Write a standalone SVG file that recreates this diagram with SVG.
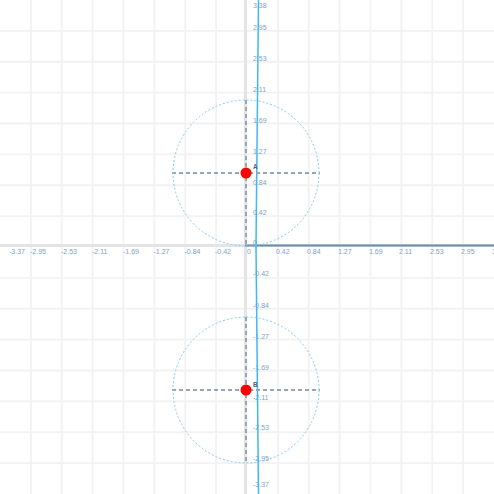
<svg xmlns="http://www.w3.org/2000/svg" width="494" height="494" viewBox="0 0 494 494">
<style>
.grid line{stroke:#f2f2f2;stroke-width:1.8}
.ax{stroke:#e4e4e4;stroke-width:3}
.ray{stroke:#6b8cae;stroke-width:2}
.dash{stroke:#95a4b8;stroke-width:2;stroke-dasharray:4 3;fill:none}
.circ{stroke:#7fcaf2;stroke-width:1;stroke-dasharray:2 2;fill:none}
.curve{stroke:#3db8f5;stroke-width:1.5;fill:none}
.pt{fill:#ff0000}
.lbl{font-family:"Liberation Sans",Arial,sans-serif;font-size:7px;fill:#7ea3c6}
.name{font-family:"Liberation Sans",Arial,sans-serif;font-size:6.5px;fill:#4f6077;font-weight:bold}
</style>
<rect width="494" height="494" fill="#ffffff"/>
<g class="grid">
<line x1="30.9" y1="0" x2="30.9" y2="494"/><line x1="61.75" y1="0" x2="61.75" y2="494"/><line x1="92.6" y1="0" x2="92.6" y2="494"/><line x1="123.5" y1="0" x2="123.5" y2="494"/><line x1="154.4" y1="0" x2="154.4" y2="494"/><line x1="185.25" y1="0" x2="185.25" y2="494"/><line x1="216.1" y1="0" x2="216.1" y2="494"/><line x1="277.9" y1="0" x2="277.9" y2="494"/><line x1="308.75" y1="0" x2="308.75" y2="494"/><line x1="339.6" y1="0" x2="339.6" y2="494"/><line x1="370.5" y1="0" x2="370.5" y2="494"/><line x1="401.4" y1="0" x2="401.4" y2="494"/><line x1="432.25" y1="0" x2="432.25" y2="494"/><line x1="463.1" y1="0" x2="463.1" y2="494"/>
<line y1="30.9" x1="0" y2="30.9" x2="494"/><line y1="61.75" x1="0" y2="61.75" x2="494"/><line y1="92.6" x1="0" y2="92.6" x2="494"/><line y1="123.5" x1="0" y2="123.5" x2="494"/><line y1="154.4" x1="0" y2="154.4" x2="494"/><line y1="185.25" x1="0" y2="185.25" x2="494"/><line y1="216.1" x1="0" y2="216.1" x2="494"/><line y1="277.9" x1="0" y2="277.9" x2="494"/><line y1="308.75" x1="0" y2="308.75" x2="494"/><line y1="339.6" x1="0" y2="339.6" x2="494"/><line y1="370.5" x1="0" y2="370.5" x2="494"/><line y1="401.4" x1="0" y2="401.4" x2="494"/><line y1="432.25" x1="0" y2="432.25" x2="494"/><line y1="463.1" x1="0" y2="463.1" x2="494"/>
</g>
<g id="axes">
<line class="ax" x1="0" y1="245.5" x2="494" y2="245.5"/>
<line class="ax" x1="245.5" y1="0" x2="245.5" y2="494"/>
<line class="ray" x1="245" y1="245.5" x2="494" y2="245.5"/>
</g>
<g id="axis-labels" class="lbl">
<text x="9" y="254">-3.37</text><text x="30" y="254">-2.95</text><text x="61" y="254">-2.53</text><text x="92" y="254">-2.11</text><text x="123" y="254">-1.69</text><text x="153.5" y="254">-1.27</text><text x="184.5" y="254">-0.84</text><text x="215" y="254">-0.42</text><text x="247" y="254">0</text><text x="276" y="254">0.42</text><text x="307" y="254">0.84</text><text x="338" y="254">1.27</text><text x="369" y="254">1.69</text><text x="399" y="254">2.11</text><text x="430" y="254">2.53</text><text x="461" y="254">2.95</text><text x="492" y="254">3.37</text>
<text x="253" y="8">3.38</text><text x="253" y="30">2.95</text><text x="253" y="61">2.53</text><text x="253" y="92">2.11</text><text x="253" y="123">1.69</text><text x="253" y="154">1.27</text><text x="253" y="185">0.84</text><text x="253" y="215">0.42</text><text x="253" y="245">0</text>
<text x="253" y="276">-0.42</text><text x="253" y="308">-0.84</text><text x="253" y="339">-1.27</text><text x="253" y="370">-1.69</text><text x="253" y="400">-2.11</text><text x="253" y="430">-2.53</text><text x="253" y="461">-2.95</text><text x="253" y="487">-3.37</text>
</g>
<g id="connectors">
<path class="curve" d="M258.5,0 C257,120 256,200 256,246 C256,292 257,372 258.5,494"/>
<line class="dash" x1="246" y1="100" x2="246" y2="246"/>
<line class="dash" x1="172" y1="173" x2="320" y2="173"/>
<line class="dash" x1="246" y1="317" x2="246" y2="463"/>
<line class="dash" x1="172" y1="390" x2="320" y2="390"/>
</g>
<g id="circle-A"><circle class="circ" cx="246" cy="173" r="73"/></g>
<g id="circle-B"><circle class="circ" cx="246" cy="390" r="73"/></g>
<g id="point-A"><circle class="pt" cx="246" cy="173" r="5.5"/><text class="name" x="253" y="169">A</text></g>
<g id="point-B"><circle class="pt" cx="246" cy="390" r="5.5"/><text class="name" x="253" y="387">B</text></g>
</svg>
